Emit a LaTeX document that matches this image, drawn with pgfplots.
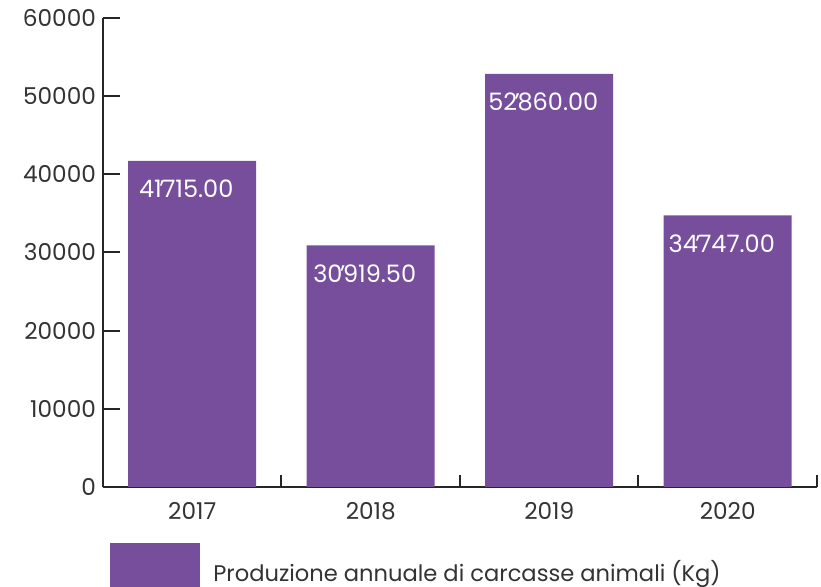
\documentclass[border=0pt]{standalone}
\usepackage{pgfplots}
\pgfplotsset{compat=1.18}
\usepackage{fontspec}
\setmainfont{Poppins}
\definecolor{barpurple}{HTML}{774E9C}
\definecolor{txt}{HTML}{333333}
\newcommand{\sep}{\kern-0.1em\char"0027\kern-0.1em}
\begin{document}
\begin{tikzpicture}
\begin{axis}[
  scale only axis,
  width=357pt, height=234.5pt,
  xmin=-0.5, xmax=3.5,
  ymin=0, ymax=60000,
  axis x line*=bottom,
  axis y line*=left,
  axis line style={line width=1pt, color=black!85},
  xtick={-0.5,0.5,1.5,2.5,3.5},
  xticklabels={2017,2018,2019,2020},
  x tick label as interval,
  ytick={0,10000,...,60000},
  tick align=inside,
  major tick length=8.5pt,
  xtick style={/pgfplots/major tick length=6pt},
  tick style={line width=1pt, color=black!85},
  scaled y ticks=false,
  /pgf/number format/assume math mode=true,
  /pgf/number format/1000 sep={},
  ticklabel style={font=\fontsize{11.6}{13}\selectfont, text=txt},
  xticklabel style={yshift=-4pt},
  nodes near coords,
  point meta=explicit symbolic,
  every node near coord/.append style={font=\fontsize{12}{14}\selectfont, text=white, anchor=center, yshift=-14pt, xshift=-3pt},
  legend style={at={(0.0098,-0.1194)}, anchor=north west, draw=none, fill=none,
    inner sep=0pt, column sep=6.5pt,
    nodes={inner sep=0pt, text=txt, font=\fontsize{11.3}{13}\selectfont}},
  legend image code/.code={\fill[barpurple] (0pt,-22pt) rectangle (45pt,14.5pt);},
  clip=false,
]
\addplot[ybar, bar width=64pt, fill=barpurple, draw=none] coordinates {
  (0,41715) [41\sep715.00]
  (1,30919.5) [30\sep919.50]
  (2,52860) [52\sep860.00]
  (3,34747) [34\sep747.00]
};
\addlegendentry{Produzione annuale di carcasse animali (Kg)}
\end{axis}
\pgfresetboundingbox
\useasboundingbox (-51.5pt,-50pt) rectangle (359pt,243.5pt);
\end{tikzpicture}
\end{document}
